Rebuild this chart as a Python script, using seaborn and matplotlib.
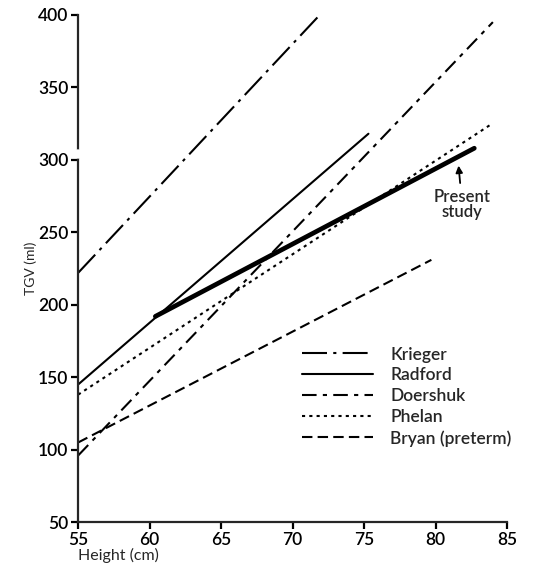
import numpy as np
import pandas as pd
import matplotlib
matplotlib.use("Agg")
import matplotlib.pyplot as plt
import seaborn as sns

# end points of each regression line (height cm, TGV ml)
studies = ["Krieger", "Radford", "Doershuk", "Phelan", "Bryan (preterm)"]
x_start = [55, 55, 55, 55, 55]
x_end = [71.9, 75.3, 84.0, 83.8, 79.7]
y_start = [222, 145, 96, 138, 105]
y_end = [400, 318, 395, 324, 231]

present_x = [60.4, 82.7]
present_y = [192, 308]

styles = [(0, (12, 3, 1.5, 3)), "-", (0, (7, 3, 2, 3)), (0, (1.5, 2)), (0, (5, 2.5))]

sns.set_style("ticks")
plt.rcParams["font.family"] = ["Lato", "DejaVu Sans"]
plt.rcParams["font.weight"] = "semibold"

fig = plt.figure(figsize=(5.35, 5.72), dpi=100)
ax = fig.add_axes([0.146, 0.087, 0.802, 0.887])

rows = []
for s, x0, x1, y0, y1 in zip(studies, x_start, x_end, y_start, y_end):
    rows.append({"study": s, "x": x0, "y": y0})
    rows.append({"study": s, "x": x1, "y": y1})
df = pd.DataFrame(rows)

for s, ls in zip(studies, styles):
    sub = df[df.study == s]
    sns.lineplot(data=sub, x="x", y="y", ax=ax, color="black", lw=1.5,
                 label=s, estimator=None, sort=False)
    ax.lines[-1].set_linestyle(ls)

sns.lineplot(x=present_x, y=present_y, ax=ax, color="black", lw=3.4,
             estimator=None, sort=False)

ax.set_xlim(55, 85)
ax.set_ylim(50, 400)
ax.set_xticks(range(55, 86, 5))
ax.set_yticks(range(50, 401, 50))
sns.despine(ax=ax)
ax.spines["left"].set_linewidth(1.6)
ax.spines["bottom"].set_linewidth(1.6)
ax.tick_params(axis="both", length=5, width=1.6, labelsize=12.5, colors="black", pad=2)
ax.set_xlabel("Height (cm)", loc="left", fontsize=11.5, labelpad=0)
ax.set_ylabel("TGV (ml)", fontsize=10, labelpad=1)

# axis break near 300
ax.plot([0, 0], [0.722, 0.730], transform=ax.transAxes, color="white",
        lw=4, clip_on=False, zorder=5)

leg = ax.legend(loc="upper left", bbox_to_anchor=(0.505, 0.36), frameon=False,
                handlelength=4.1, handletextpad=1.0, labelspacing=0.28,
                fontsize=12.5, borderaxespad=0)

ax.annotate("Present\nstudy", xy=(81.6, 296), xytext=(81.85, 269),
            ha="center", va="center", fontsize=12, linespacing=0.95,
            arrowprops=dict(arrowstyle="-|>", color="black", lw=1.3,
                            shrinkA=2, shrinkB=0, mutation_scale=10))

fig.savefig("out.png", dpi=100)
